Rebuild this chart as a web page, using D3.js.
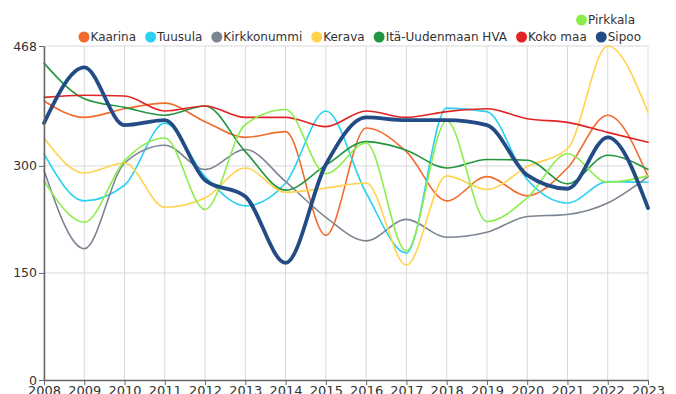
<!DOCTYPE html>
<html>
<head>
<meta charset="utf-8">
<script src="https://cdn.jsdelivr.net/npm/d3@7"></script>
<style>
  html, body { margin: 0; padding: 0; background: #fff; }
  svg { display: block; font-family: "DejaVu Sans", sans-serif; }
</style>
</head>
<body>
<svg id="chart" width="676" height="394"></svg>
<script>
// Years on the x axis
const years = [2008, 2009, 2010, 2011, 2012, 2013, 2014, 2015, 2016, 2017, 2018, 2019, 2020, 2021, 2022, 2023];

// Series values, one per year
const kaarina     = [391, 368, 380, 388, 362, 340, 348, 203, 353, 320, 251, 285, 258, 297, 371, 285];
const tuusula     = [317, 251, 273, 360, 285, 244, 276, 377, 262, 178, 381, 376, 281, 248, 278, 277];
const kirkkonummi = [294, 184, 304, 329, 295, 323, 278, 228, 195, 225, 200, 207, 229, 232, 248, 285];
const kerava      = [339, 290, 304, 242, 255, 297, 263, 269, 276, 161, 286, 267, 299, 324, 468, 375];
const itaUusimaa  = [444, 394, 382, 371, 384, 320, 266, 301, 334, 322, 297, 309, 308, 275, 315, 295];
const kokoMaa     = [396, 399, 398, 377, 384, 368, 368, 355, 377, 368, 376, 380, 366, 361, 347, 333];
const sipoo       = [360, 438, 357, 364, 280, 257, 164, 302, 368, 364, 364, 357, 287, 268, 340, 241];
const pirkkala    = [279, 221, 307, 339, 239, 358, 379, 289, 332, 181, 363, 222, 255, 317, 277, 286];

// Y axis tick values
const yTicks = [0, 150, 300, 468];

const series = [
  { name: "Kaarina", values: kaarina, color: "#f26b2d", width: 1.6 },
  { name: "Tuusula", values: tuusula, color: "#2bd2ef", width: 1.6 },
  { name: "Kirkkonummi", values: kirkkonummi, color: "#7b8593", width: 1.6 },
  { name: "Kerava", values: kerava, color: "#ffd34e", width: 1.6 },
  { name: "Itä-Uudenmaan HVA", values: itaUusimaa, color: "#22963f", width: 1.6 },
  { name: "Koko maa", values: kokoMaa, color: "#e02323", width: 1.6 },
  { name: "Pirkkala", values: pirkkala, color: "#8ced4b", width: 1.6 },
  { name: "Sipoo", values: sipoo, color: "#234c86", width: 3.8 }
];

const svg = d3.select("#chart");
const margin = { left: 44, right: 28, top: 46, bottom: 14 };
const W = 676, H = 394;

const x = d3.scaleLinear()
  .domain([years[0], years[years.length - 1]])
  .range([margin.left, W - margin.right]);
const y = d3.scaleLinear()
  .domain([0, 468])
  .range([H - margin.bottom, margin.top]);

// Grid lines
const grid = svg.append("g").attr("class", "grid");
grid.selectAll("line.v").data(years).join("line")
  .attr("x1", d => x(d)).attr("x2", d => x(d))
  .attr("y1", y(0)).attr("y2", y(468))
  .attr("stroke", "#d9d9d9").attr("stroke-width", 1);
grid.selectAll("line.h").data(yTicks.filter(d => d > 0)).join("line")
  .attr("x1", x(years[0])).attr("x2", x(years[years.length - 1]))
  .attr("y1", d => y(d)).attr("y2", d => y(d))
  .attr("stroke", "#d9d9d9").attr("stroke-width", 1);

// Lines
const line = d3.line()
  .x((d, i) => x(years[i]))
  .y(d => y(d))
  .curve(d3.curveMonotoneX);

svg.append("g").selectAll("path").data(series).join("path")
  .attr("d", s => line(s.values))
  .attr("fill", "none")
  .attr("stroke", s => s.color)
  .attr("stroke-width", s => s.width)
  .attr("stroke-linejoin", "round")
  .attr("stroke-linecap", "round");

// Axes
const xAxis = svg.append("g")
  .attr("transform", `translate(0,${y(0)})`)
  .call(d3.axisBottom(x).tickValues(years).tickFormat(d3.format("d")).tickSize(5).tickSizeOuter(0));
const yAxis = svg.append("g")
  .attr("transform", `translate(${x(years[0])},0)`)
  .call(d3.axisLeft(y).tickValues(yTicks).tickFormat(d3.format("d")).tickSize(5).tickSizeOuter(0));

[xAxis, yAxis].forEach(g => {
  g.select(".domain").attr("stroke", "#666").attr("stroke-width", 1.5);
  g.selectAll(".tick line").attr("stroke", "#666");
  g.selectAll(".tick text").attr("fill", "#333")
    .attr("font-family", "DejaVu Sans, sans-serif");
});
xAxis.selectAll(".tick text").attr("font-size", 13).attr("dy", "0.55em");
yAxis.selectAll(".tick text").attr("font-size", 12.5).attr("x", -7);

// Legend: two rows, right aligned
const legendRows = [
  { items: ["Pirkkala"], right: 635, y: 20 },
  { items: ["Kaarina", "Tuusula", "Kirkkonummi", "Kerava", "Itä-Uudenmaan HVA", "Koko maa", "Sipoo"], right: 641, y: 37 }
];
const legend = svg.append("g").attr("class", "legend");
legendRows.forEach(row => {
  const groups = row.items.map(name => {
    const s = series.find(d => d.name === name);
    const g = legend.append("g");
    g.append("circle").attr("r", 5.5).attr("cx", 5.5).attr("cy", 0).attr("fill", s.color);
    const t = g.append("text").attr("x", 12).attr("y", 0).attr("dy", "0.35em")
      .attr("font-size", 12).attr("fill", "#333").text(name);
    return { g, w: 12 + t.node().getComputedTextLength() };
  });
  const gap = 9;
  const total = d3.sum(groups, d => d.w) + gap * (groups.length - 1);
  let cx = row.right - total;
  groups.forEach(d => {
    d.g.attr("transform", `translate(${cx},${row.y})`);
    cx += d.w + gap;
  });
});
</script>
</body>
</html>
